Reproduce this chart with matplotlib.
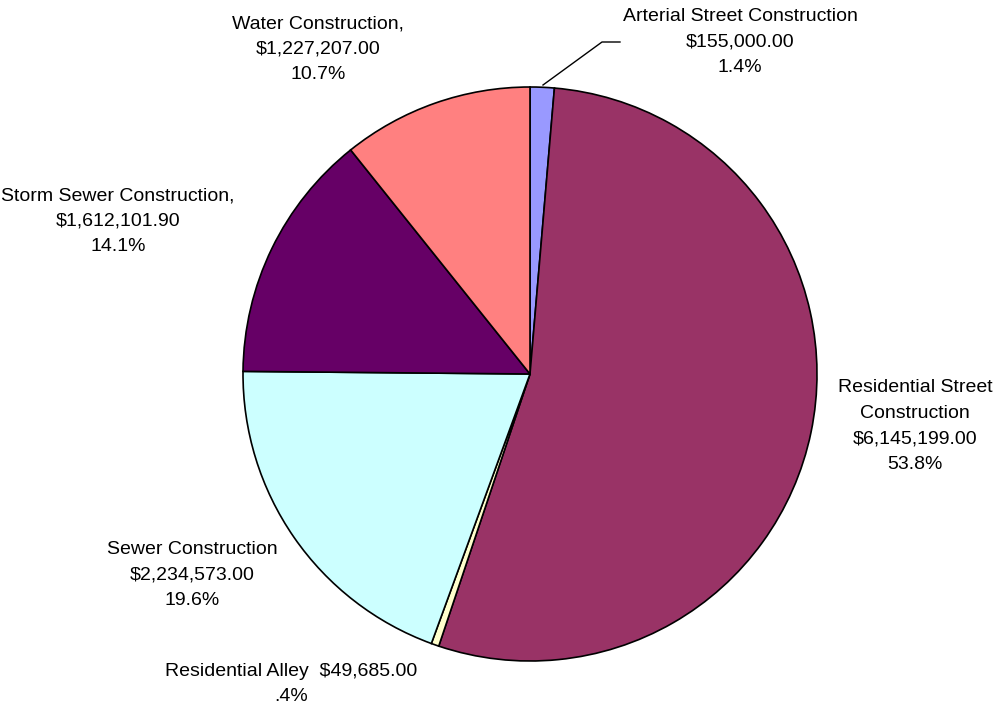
import matplotlib.pyplot as plt

categories = ["Arterial Street Construction", "Residential Street Construction",
              "Residential Alley", "Sewer Construction",
              "Storm Sewer Construction,", "Water Construction,"]
amounts = [155000.00, 6145199.00, 49685.00, 2234573.00, 1612101.90, 1227207.00]
colors = ["#9999FF", "#993366", "#FFFFCC", "#CCFFFF", "#660066", "#FF8080"]

total = sum(amounts)
pcts = [a / total * 100 for a in amounts]


def money(v):
    return "${:,.2f}".format(v)


def pct(p):
    s = "{:.1f}%".format(p)
    return s[1:] if s.startswith("0.") else s


W, H = 1008, 707
fig = plt.figure(figsize=(W / 100, H / 100), dpi=100)
ax = fig.add_axes([0, 0, 1, 1])

cx, cy, r = 530, H - 374, 287
ax.pie(amounts, colors=colors, startangle=90, counterclock=False,
       center=(cx, cy), radius=r, frame=True,
       wedgeprops=dict(edgecolor="black", linewidth=1.2))
ax.set_xlim(0, W)
ax.set_ylim(0, H)
ax.set_aspect("equal")
ax.axis("off")

font = dict(family="Liberation Sans", fontsize=14, color="black",
            ha="center", va="center", linespacing=1.65)

texts = [
    (categories[0] + "\n" + money(amounts[0]) + "\n" + pct(pcts[0]), 740, 42),
    ("Residential Street\nConstruction\n" + money(amounts[1]) + "\n" + pct(pcts[1]), 915, 426),
    (categories[2] + "  " + money(amounts[2]) + "\n" + pct(pcts[2]), 291, 684),
    (categories[3] + "\n" + money(amounts[3]) + "\n" + pct(pcts[3]), 192, 575),
    (categories[4] + "\n" + money(amounts[4]) + "\n" + pct(pcts[4]), 118, 221),
    (categories[5] + "\n" + money(amounts[5]) + "\n" + pct(pcts[5]), 318, 49),
]
for s, x, y in texts:
    ax.text(x, H - y, s, **font)

# leader line for the small arterial slice
ax.plot([543, 602, 620], [H - 85, H - 42, H - 42], color="black", linewidth=1)

fig.savefig("out.png", dpi=100)
